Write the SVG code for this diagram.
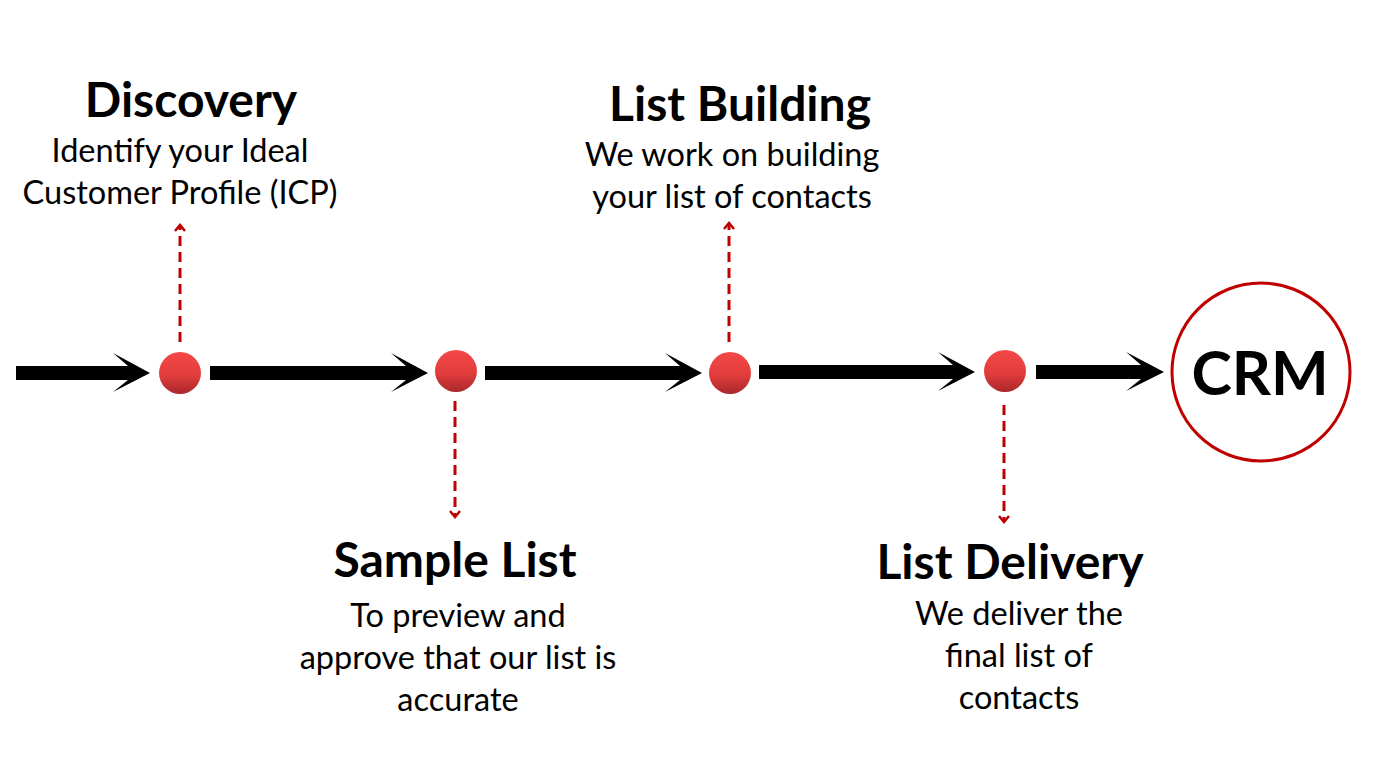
<svg xmlns="http://www.w3.org/2000/svg" width="1391" height="760" viewBox="0 0 1391 760">
  <style>
    .title { font-family: Lato, "Open Sans", sans-serif; font-weight: 700; font-size: 48px; fill: #000; text-anchor: middle; }
    .desc { font-family: Lato, "Open Sans", sans-serif; font-size: 32.5px; fill: #000; text-anchor: middle; }
    .crm { font-family: Lato, "Open Sans", sans-serif; font-weight: 700; font-size: 61px; fill: #000; text-anchor: middle; }
    .flow { fill: #000; }
    .link { stroke: #c00000; stroke-width: 3; stroke-dasharray: 10 6; fill: none; marker-end: url(#chevron); }
    .dot { fill: url(#dotFill); }
  </style>
  <defs>
    <linearGradient id="dotFill" x1="0" y1="0" x2="0" y2="1">
      <stop offset="0" stop-color="#f54848"/>
      <stop offset="0.55" stop-color="#e23c3c"/>
      <stop offset="1" stop-color="#a9282c"/>
    </linearGradient>
    <marker id="chevron" markerWidth="12" markerHeight="12" viewBox="0 0 12 12" refX="9" refY="6" orient="auto" markerUnits="userSpaceOnUse">
      <path d="M3,1 L9,6 L3,11" fill="none" stroke="#c00000" stroke-width="2.5"/>
    </marker>
  </defs>
  <rect width="1391" height="760" fill="#fff"/>

  <!-- main flow arrows along the timeline -->
  <g id="connectors">
    <path class="flow" d="M16,366 H128 L113,353 L150,373 L113,392 L128,380 H16 Z"/>
    <path class="flow" d="M210,366 H406 L391,353 L428,373 L391,392 L406,380 H210 Z"/>
    <path class="flow" d="M485,366 H680 L665,353 L702,373 L665,392 L680,380 H485 Z"/>
    <path class="flow" d="M759,365 H953 L938,352 L975,372 L938,391 L953,379 H759 Z"/>
    <path class="flow" d="M1036,365 H1141 L1126,352 L1164,372 L1126,391 L1141,379 H1036 Z"/>

    <!-- dashed callout links -->
    <line class="link" x1="180" y1="342" x2="180" y2="225"/>
    <line class="link" x1="455" y1="401" x2="455" y2="517"/>
    <line class="link" x1="729" y1="342" x2="729" y2="223"/>
    <line class="link" x1="1004" y1="405" x2="1004" y2="522"/>
  </g>

  <g id="discovery">
    <circle class="dot" cx="180" cy="373" r="21"/>
    <text class="title" x="191" y="117">Discovery</text>
    <text class="desc" x="180" y="162">Identify your Ideal</text>
    <text class="desc" x="180" y="204">Customer Profile (ICP)</text>
  </g>

  <g id="sample-list">
    <circle class="dot" cx="456" cy="371" r="21"/>
    <text class="title" x="455" y="577">Sample List</text>
    <text class="desc" x="458" y="627">To preview and</text>
    <text class="desc" x="458" y="669">approve that our list is</text>
    <text class="desc" x="458" y="711">accurate</text>
  </g>

  <g id="list-building">
    <circle class="dot" cx="730" cy="373" r="21"/>
    <text class="title" x="740" y="121">List Building</text>
    <text class="desc" x="732" y="166">We work on building</text>
    <text class="desc" x="732" y="208">your list of contacts</text>
  </g>

  <g id="list-delivery">
    <circle class="dot" cx="1005" cy="371" r="21"/>
    <text class="title" x="1010" y="579">List Delivery</text>
    <text class="desc" x="1019" y="625">We deliver the</text>
    <text class="desc" x="1019" y="667">final list of</text>
    <text class="desc" x="1019" y="709">contacts</text>
  </g>

  <g id="crm">
    <circle cx="1261" cy="372" r="89" fill="#fff" stroke="#c00000" stroke-width="3"/>
    <text class="crm" x="1260" y="395">CRM</text>
  </g>
</svg>
